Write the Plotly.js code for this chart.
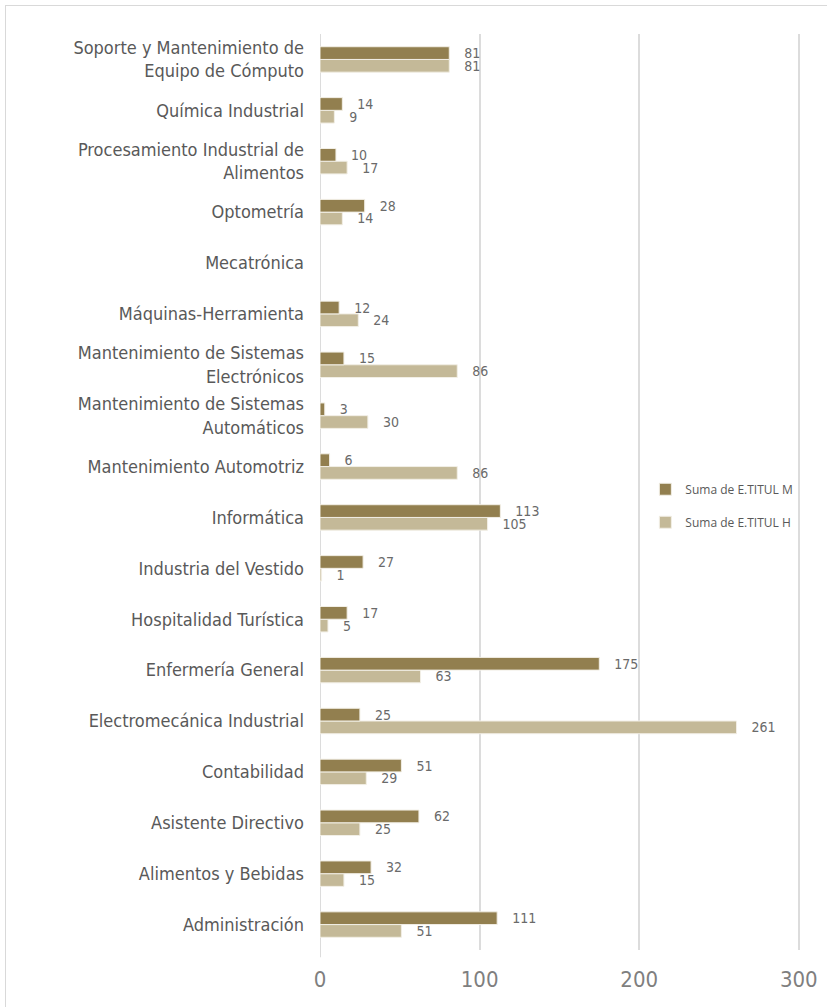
<!DOCTYPE html>
<html>
<head>
<meta charset="utf-8">
<script src="https://cdn.plot.ly/plotly-3.0.1.min.js"></script>
<style>
html,body{margin:0;padding:0;background:#fff;}
#wrap{position:absolute;left:5px;top:5px;width:830px;height:1010px;border:1px solid #d9d9d9;box-sizing:border-box;}
#chart{position:absolute;left:0;top:0;width:827px;height:1007px;}
</style>
</head>
<body>
<div id="wrap"></div>
<div id="chart"></div>
<script>
const categories = [
  "Administración",
  "Alimentos y Bebidas",
  "Asistente Directivo",
  "Contabilidad",
  "Electromecánica Industrial",
  "Enfermería General",
  "Hospitalidad Turística",
  "Industria del Vestido",
  "Informática",
  "Mantenimiento Automotriz",
  "Mantenimiento de Sistemas<br>Automáticos",
  "Mantenimiento de Sistemas<br>Electrónicos",
  "Máquinas-Herramienta",
  "Mecatrónica",
  "Optometría",
  "Procesamiento Industrial de<br>Alimentos",
  "Química Industrial",
  "Soporte y Mantenimiento de<br>Equipo de Cómputo"
];
const sumaM = [111, 32, 62, 51, 25, 175, 17, 27, 113, 6, 3, 15, 12, null, 28, 10, 14, 81];
const sumaH = [51, 15, 25, 29, 261, 63, 5, 1, 105, 86, 30, 86, 24, null, 14, 17, 9, 81];
const seriesNames = ["Suma de E.TITUL M", "Suma de E.TITUL H"];
const xTicks = [0, 100, 200, 300];

const condFont = "DejaVu Sans Condensed, Liberation Sans Narrow, sans-serif";
const labelFont = {family: condFont, size: 14, color: "#6a6a6a"};

const traceH = {
  type: "bar", orientation: "h", name: seriesNames[1], legendgroup: "h", legendrank: 2,
  y: categories, x: sumaH,
  marker: {color: "#c4b998", line: {color: "#f2efe6", width: 1}},
  texttemplate: "\u00a0\u00a0\u00a0%{x}", textposition: "outside",
  constraintext: "none", textfont: labelFont, cliponaxis: false
};
const traceM = {
  type: "bar", orientation: "h", name: seriesNames[0], legendgroup: "m", legendrank: 1,
  y: categories, x: sumaM,
  marker: {color: "#927f4f", line: {color: "#f2efe6", width: 1}},
  texttemplate: "\u00a0\u00a0\u00a0%{x}", textposition: "outside",
  constraintext: "none", textfont: labelFont, cliponaxis: false
};

const layout = {
  width: 827, height: 1007,
  margin: {l: 320, r: 25, t: 34, b: 57},
  paper_bgcolor: "rgba(0,0,0,0)", plot_bgcolor: "rgba(0,0,0,0)",
  barmode: "group", bargap: 0.5, bargroupgap: 0,
  showlegend: true,
  legend: {
    x: 0.675, y: 0.485, xanchor: "left", yanchor: "middle",
    traceorder: "grouped",
    font: {family: "Open Sans, sans-serif", size: 12, color: "#595959"},
    bgcolor: "rgba(255,255,255,0)", tracegroupgap: 14, itemwidth: 30
  },
  xaxis: {
    range: [0, 302], tickvals: xTicks, ticktext: xTicks.map(String),
    showgrid: true, gridcolor: "#dcdcdc", gridwidth: 2,
    zeroline: false, showline: false,
    tickfont: {family: condFont, size: 22, color: "#7f7f7f"},
    ticks: "", ticklabelstandoff: 14, fixedrange: true
  },
  yaxis: {
    type: "category", categoryorder: "array", categoryarray: categories,
    showgrid: false, zeroline: false, showline: false,
    tickfont: {family: condFont, size: 18, color: "#595959"},
    ticks: "", ticklabelstandoff: 15, automargin: false, fixedrange: true
  },
  shapes: [{type: "line", xref: "x", yref: "paper", x0: 0, x1: 0, y0: -0.008, y1: 1.0, line: {color: "#dcdcdc", width: 2}, layer: "below"}]
};

Plotly.newPlot("chart", [traceH, traceM], layout, {displayModeBar: false, staticPlot: true});
</script>
</body>
</html>
